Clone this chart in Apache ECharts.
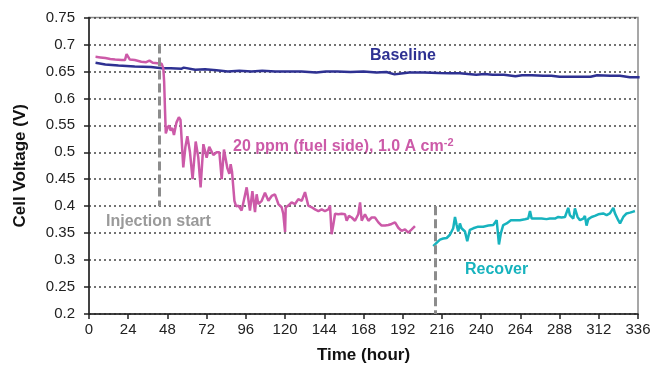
<!DOCTYPE html>
<html><head><meta charset="utf-8">
<script src="https://cdn.jsdelivr.net/npm/echarts@6/dist/echarts.min.js"></script>
<style>html,body{margin:0;padding:0;background:#fff}#c{width:652px;height:367px}</style>
</head><body><div id="c"></div>
<script>
// ---- data (hour, cell voltage V) ----
const xTicks = [0,24,48,72,96,120,144,168,192,216,240,264,288,312,336];
const yTicks = [0.2,0.25,0.3,0.35,0.4,0.45,0.5,0.55,0.6,0.65,0.7,0.75];
const baseline = [[4,0.666],[10,0.663],[18,0.661],[28,0.659],[38,0.658],[44.5,0.656],[50,0.656],[56.7,0.655],[58,0.657],[65,0.653],[71,0.654],[78,0.652],[85,0.650],[92,0.651],[99.5,0.650],[106,0.651],[114,0.650],[122,0.650],[130,0.650],[139,0.648],[145,0.650],[152,0.650],[160,0.649],[168,0.650],[176,0.648],[182,0.649],[187,0.6445],[191,0.646],[196,0.648],[205,0.648],[214,0.647],[221,0.6465],[227,0.6465],[232,0.645],[237,0.644],[242,0.645],[247,0.644],[254,0.644],[261,0.641],[265,0.643],[271,0.643],[278,0.642],[283,0.642],[288,0.640],[296,0.640],[307,0.640],[311,0.643],[319,0.642],[325,0.642],[331,0.639],[337,0.639]];
const fuelSide = [[4,0.677],[7,0.676],[10,0.675],[13,0.673],[16,0.672],[20,0.671],[22,0.671],[23,0.682],[25,0.672],[28,0.671],[32,0.668],[35,0.667],[37,0.670],[39,0.666],[42,0.665],[44.5,0.664],[45.5,0.655],[46,0.63],[46.5,0.58],[47,0.535],[48,0.545],[49,0.55],[50,0.54],[51,0.545],[52,0.532],[53.5,0.555],[55,0.565],[56,0.56],[57.7,0.472],[59,0.51],[60.2,0.53],[61.8,0.50],[63.4,0.45],[65.3,0.52],[66.9,0.49],[68.3,0.435],[70,0.515],[72,0.49],[73.6,0.51],[76.1,0.495],[78.1,0.50],[79.8,0.50],[81.2,0.45],[82.6,0.505],[84.7,0.47],[85.9,0.46],[86.7,0.478],[87.5,0.465],[89,0.41],[90,0.40],[91.4,0.401],[93.4,0.392],[94.5,0.407],[96.5,0.435],[97.5,0.437],[98.5,0.392],[100,0.428],[101.6,0.389],[102.6,0.422],[103.6,0.404],[105.7,0.41],[107.7,0.425],[109.8,0.41],[111.8,0.419],[113.8,0.422],[115.9,0.404],[117.9,0.398],[118.9,0.386],[120,0.352],[120.4,0.398],[122,0.401],[124,0.407],[126.1,0.404],[128.1,0.413],[130.2,0.41],[132.2,0.426],[134.2,0.401],[136.3,0.398],[138.3,0.394],[140.4,0.391],[142.4,0.394],[144.4,0.391],[146.5,0.394],[147.5,0.401],[148.5,0.348],[149.5,0.365],[150.6,0.386],[152.6,0.385],[154.6,0.386],[156.7,0.385],[157.7,0.373],[159.1,0.382],[160.8,0.379],[162.8,0.373],[164.8,0.385],[165.9,0.407],[166.9,0.373],[167.9,0.379],[168.9,0.385],[171,0.373],[173,0.379],[175,0.379],[177.1,0.370],[179.1,0.364],[181.2,0.364],[183.2,0.365],[185.2,0.367],[187.3,0.370],[189.3,0.360],[191.3,0.354],[193.4,0.357],[195.4,0.351],[197.5,0.357],[199.5,0.363]];
const recover = [[210.7,0.326],[212.7,0.332],[214.8,0.338],[216.8,0.340],[218.9,0.341],[220.9,0.347],[222.9,0.359],[224,0.380],[225,0.365],[226,0.353],[227,0.368],[228,0.359],[230.1,0.353],[231.5,0.335],[233.1,0.356],[235.2,0.359],[238.2,0.362],[241.3,0.362],[244.4,0.364],[247.4,0.365],[249.5,0.374],[250.9,0.329],[252.1,0.350],[253.5,0.365],[255.6,0.368],[258.2,0.374],[260.7,0.374],[263.7,0.374],[266.8,0.3756],[268.8,0.377],[269.9,0.391],[270.9,0.377],[273.9,0.377],[277,0.377],[280,0.376],[282.1,0.377],[285.2,0.377],[287.2,0.380],[289.2,0.379],[291.3,0.380],[293.3,0.397],[294.3,0.3835],[296.4,0.377],[297.4,0.396],[299,0.380],[300.5,0.374],[302.5,0.377],[303.5,0.382],[304.5,0.364],[305.6,0.376],[307.6,0.380],[309.6,0.382],[311.7,0.385],[314.7,0.3866],[316.8,0.3835],[318.8,0.3866],[320.9,0.397],[321.9,0.3866],[323.9,0.374],[325,0.368],[327,0.380],[329,0.3866],[331.1,0.388],[333.1,0.390],[334.1,0.391]];
const injectionHour = 42.8;
const recoverHour = 211.7;

const chart = echarts.init(document.getElementById('c'));
const FONT = '"Liberation Sans", Arial, sans-serif';
chart.setOption({
  animation:false,
  grid:{left:89,right:14,top:17.5,bottom:53,containLabel:false,outerBoundsMode:'none',
    show:true,borderColor:'#8a8a8a',borderWidth:1.5},
  xAxis:{type:'value',min:0,max:336,interval:24,
    name:'Time (hour)',nameLocation:'middle',nameGap:33,
    nameTextStyle:{fontFamily:FONT,fontWeight:'bold',fontSize:17,color:'#111'},
    axisLine:{lineStyle:{color:'#222',width:1.5}},
    axisTick:{show:true,inside:false,length:5,lineStyle:{color:'#222',width:1.5}},
    axisLabel:{fontFamily:FONT,fontSize:15,color:'#222',margin:8},
    splitLine:{show:false}},
  yAxis:{type:'value',min:0.2,max:0.75,interval:0.05,
    name:'Cell Voltage (V)',nameLocation:'middle',nameGap:60,nameRotate:90,
    nameTextStyle:{fontFamily:FONT,fontWeight:'bold',fontSize:17,color:'#111'},
    axisLine:{show:true,lineStyle:{color:'#222',width:1.5}},
    axisTick:{show:true,inside:false,length:5,lineStyle:{color:'#222',width:1.5}},
    axisLabel:{fontFamily:FONT,fontSize:15,color:'#222',margin:14,
      formatter:v=>String(+v.toFixed(2))},
    splitLine:{show:true,lineStyle:{color:'#444',width:1.5,type:[2,3]}}},
  series:[
    {type:'line',data:baseline,symbol:'none',lineStyle:{color:'#2e3192',width:2.5},z:3},
    {type:'line',data:fuelSide,symbol:'none',lineStyle:{color:'#cc5aa8',width:2.5},z:4,
      markLine:{silent:true,symbol:'none',label:{show:false},
        lineStyle:{color:'#8c8c8c',width:3,type:[9,4]},
        data:[[{coord:[injectionHour,0.70]},{coord:[injectionHour,0.40]}],
              [{coord:[recoverHour,0.40]},{coord:[recoverHour,0.20]}]]}},
    {type:'line',data:recover,symbol:'none',lineStyle:{color:'#17b3be',width:2.5},z:4}
  ],
  graphic:[
    {type:'text',left:370,top:48,style:{text:'Baseline',font:'bold 16px '+FONT,fill:'#2e3192'}},
    {type:'text',left:233,top:137,style:{text:'{a|20 ppm (fuel side), 1.0 A cm}{s|-2}',
      rich:{a:{font:'bold 16px '+FONT,fill:'#cc5aa8',color:'#cc5aa8'},s:{font:'bold 11px '+FONT,color:'#cc5aa8',fill:'#cc5aa8',verticalAlign:'top',padding:[0,0,8,0]}}}},
    {type:'text',left:106,top:214,style:{text:'Injection start',font:'bold 16px '+FONT,fill:'#9a9a9a'}},
    {type:'text',left:465,top:262,style:{text:'Recover',font:'bold 16px '+FONT,fill:'#17b3be'}}
  ]
});
</script></body></html>
